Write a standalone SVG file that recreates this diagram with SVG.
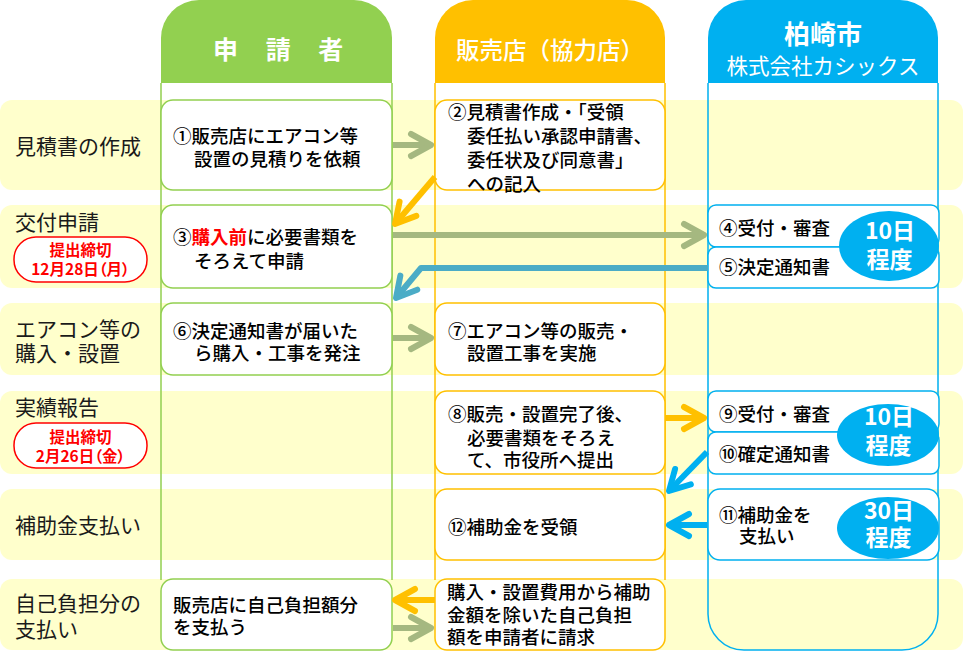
<svg xmlns="http://www.w3.org/2000/svg" width="972" height="660" viewBox="0 0 972 660">
<style>
text{font-family:"Noto Sans CJK JP","Noto Sans",sans-serif}
.band{fill:#FFFFCC}
.lbl{font-size:21px;fill:#1a1a1a}
.bt{font-size:18.5px;font-weight:500;fill:#000}
.bg{fill:#fff;stroke:#92D050;stroke-width:1.5}
.bo{fill:#fff;stroke:#FFC000;stroke-width:1.5}
.bb{fill:#fff;stroke:#00B0F0;stroke-width:1.5}
.pill{fill:#fff;stroke:#FF0000;stroke-width:1.5}
.pt{font-size:15.5px;font-weight:bold;fill:#FF0000;text-anchor:middle;font-feature-settings:"palt"}
.ell{fill:#00B0F0}
.et{font-size:23px;font-weight:bold;fill:#fff;text-anchor:middle}
.hd{fill:#fff;text-anchor:middle;font-weight:bold}
.a{fill:none;stroke-width:6;stroke-linejoin:round}
.red{fill:#FF0000;font-weight:bold}
</style>
<defs>
<marker id="mg" markerUnits="userSpaceOnUse" orient="auto" viewBox="-30 -20 40 40" markerWidth="40" markerHeight="40" refX="0" refY="0" overflow="visible"><path d="M-20,-11 L0,0 L-20,11" fill="none" stroke="#A5B880" stroke-width="6" stroke-linecap="round" stroke-linejoin="round"/></marker>
<marker id="mo" markerUnits="userSpaceOnUse" orient="auto" viewBox="-30 -20 40 40" markerWidth="40" markerHeight="40" refX="0" refY="0" overflow="visible"><path d="M-20,-11 L0,0 L-20,11" fill="none" stroke="#FFC000" stroke-width="6" stroke-linecap="round" stroke-linejoin="round"/></marker>
<marker id="mt" markerUnits="userSpaceOnUse" orient="auto" viewBox="-30 -20 40 40" markerWidth="40" markerHeight="40" refX="0" refY="0" overflow="visible"><path d="M-20,-11 L0,0 L-20,11" fill="none" stroke="#4BACC6" stroke-width="6" stroke-linecap="round" stroke-linejoin="round"/></marker>
<marker id="mb" markerUnits="userSpaceOnUse" orient="auto" viewBox="-30 -20 40 40" markerWidth="40" markerHeight="40" refX="0" refY="0" overflow="visible"><path d="M-20,-11 L0,0 L-20,11" fill="none" stroke="#00B0F0" stroke-width="6" stroke-linecap="round" stroke-linejoin="round"/></marker>
</defs>
<rect width="972" height="660" fill="#fff"/>
<g id="bands">
<rect class="band" x="0" y="100" width="963" height="90" rx="12"/>
<rect class="band" x="0" y="205" width="963" height="83" rx="12"/>
<rect class="band" x="0" y="303" width="963" height="72" rx="12"/>
<rect class="band" x="0" y="391" width="963" height="83" rx="12"/>
<rect class="band" x="0" y="489" width="963" height="71" rx="12"/>
<rect class="band" x="0" y="579" width="963" height="71" rx="12"/>
</g>
<g id="row-labels">
<text class="lbl" x="15" y="154">見積書の作成</text>
<text class="lbl" x="15" y="230">交付申請</text>
<text class="lbl" x="15" y="337">エアコン等の</text>
<text class="lbl" x="15" y="361">購入・設置</text>
<text class="lbl" x="15" y="415">実績報告</text>
<text class="lbl" x="15" y="533">補助金支払い</text>
<text class="lbl" x="15" y="611">自己負担分の</text>
<text class="lbl" x="15" y="637">支払い</text>
</g>
<g id="deadline1">
<rect class="pill" x="14" y="237" width="133" height="45" rx="22"/>
<text class="pt" x="80.5" y="256">提出締切</text>
<text class="pt" x="80.5" y="275">12月28日（月）</text>
</g>
<g id="deadline2">
<rect class="pill" x="14" y="423" width="133" height="45" rx="22"/>
<text class="pt" x="80.5" y="443">提出締切</text>
<text class="pt" x="80.5" y="462">2月26日（金）</text>
</g>
<g id="col-applicant">
<path d="M161,83 V38 A38,38 0 0 1 199,0 H354 A38,38 0 0 1 392,38 V83 Z" fill="#92D050"/>
<path d="M161,83 V580 M392,83 V580" stroke="#92D050" stroke-width="1.5" fill="none"/>
<text class="hd" x="213" y="59" style="font-size:25px;letter-spacing:11px;text-anchor:start">申 請 者</text>
</g>
<g id="col-shop">
<path d="M435,83 V38 A38,38 0 0 1 473,0 H627 A38,38 0 0 1 665,38 V83 Z" fill="#FFC000"/>
<path d="M435,83 V580 M665,83 V580" stroke="#FFC000" stroke-width="1.5" fill="none"/>
<text class="hd" x="550" y="58.5" style="font-size:23.5px;font-weight:500">販売店（協力店）</text>
</g>
<g id="col-city">
<path d="M708,83 V38 A38,38 0 0 1 746,0 H900 A38,38 0 0 1 938,38 V83 Z" fill="#00B0F0"/>
<path d="M708,83 V614 A36,36 0 0 0 744,650 H902 A36,36 0 0 0 938,614 V83" stroke="#00B0F0" stroke-width="1.5" fill="none"/>
<text class="hd" x="823" y="44" style="font-size:26px">柏崎市</text>
<text class="hd" x="823" y="74" style="font-size:21.5px;font-weight:normal">株式会社カシックス</text>
</g>
<g id="step1">
<rect class="bg" x="161" y="100" width="231" height="90" rx="12"/>
<text class="bt" x="173" y="143">①販売店にエアコン等</text>
<text class="bt" x="194" y="166">設置の見積りを依頼</text>
</g>
<g id="step2">
<rect class="bo" x="435" y="100" width="230" height="90" rx="12"/>
<text class="bt" x="448" y="119">②見積書作成・「受領</text>
<text class="bt" x="467" y="143">委任払い承認申請書、</text>
<text class="bt" x="467" y="167">委任状及び同意書」</text>
<text class="bt" x="467" y="191">への記入</text>
</g>
<g id="step3">
<rect class="bg" x="161" y="205" width="231" height="83" rx="12"/>
<text class="bt" x="173" y="244">③<tspan class="red">購入前</tspan>に必要書類を</text>
<text class="bt" x="194" y="268">そろえて申請</text>
</g>
<g id="step4">
<rect class="bb" x="708" y="205" width="231" height="42" rx="8"/>
<text class="bt" x="719" y="235">④受付・審査</text>
</g>
<g id="step5">
<rect class="bb" x="708" y="247" width="231" height="41" rx="8"/>
<text class="bt" x="719" y="274">⑤決定通知書</text>
</g>
<g id="period1">
<ellipse class="ell" cx="889" cy="246" rx="50" ry="35"/>
<text class="et" x="890" y="239">10日</text>
<text class="et" x="889.5" y="268">程度</text>
</g>
<g id="step6">
<rect class="bg" x="161" y="303" width="231" height="72" rx="12"/>
<text class="bt" x="173" y="338">⑥決定通知書が届いた</text>
<text class="bt" x="194" y="360">ら購入・工事を発注</text>
</g>
<g id="step7">
<rect class="bo" x="435" y="303" width="230" height="72" rx="12"/>
<text class="bt" x="448" y="338">⑦エアコン等の販売・</text>
<text class="bt" x="467" y="360">設置工事を実施</text>
</g>
<g id="step8">
<rect class="bo" x="435" y="391" width="230" height="83" rx="12"/>
<text class="bt" x="448" y="421">⑧販売・設置完了後、</text>
<text class="bt" x="467" y="445">必要書類をそろえ</text>
<text class="bt" x="467" y="467">て、市役所へ提出</text>
</g>
<g id="step9">
<rect class="bb" x="708" y="391" width="231" height="41" rx="8"/>
<text class="bt" x="719" y="421">⑨受付・審査</text>
</g>
<g id="step10">
<rect class="bb" x="708" y="432" width="231" height="42" rx="8"/>
<text class="bt" x="719" y="461">⑩確定通知書</text>
</g>
<g id="period2">
<ellipse class="ell" cx="888" cy="435" rx="51" ry="31"/>
<text class="et" x="889" y="425">10日</text>
<text class="et" x="888.5" y="454">程度</text>
</g>
<g id="step12">
<rect class="bo" x="435" y="489" width="230" height="71" rx="12"/>
<text class="bt" x="448" y="534">⑫補助金を受領</text>
</g>
<g id="step11">
<rect class="bb" x="708" y="489" width="231" height="71" rx="12"/>
<text class="bt" x="719" y="522">⑪補助金を</text>
<text class="bt" x="739" y="543">支払い</text>
</g>
<g id="period3">
<ellipse class="ell" cx="888" cy="528" rx="51" ry="31"/>
<text class="et" x="889" y="519">30日</text>
<text class="et" x="888.5" y="546">程度</text>
</g>
<g id="pay-self">
<rect class="bg" x="161" y="579" width="231" height="71" rx="12"/>
<text class="bt" x="173" y="612">販売店に自己負担額分</text>
<text class="bt" x="173" y="634">を支払う</text>
</g>
<g id="bill">
<rect class="bo" x="435" y="579" width="230" height="71" rx="12"/>
<text class="bt" x="447" y="599">購入・設置費用から補助</text>
<text class="bt" x="447" y="622">金額を除いた自己負担</text>
<text class="bt" x="447" y="644">額を申請者に請求</text>
</g>
<g id="connectors">
<path class="a" stroke="#A5B880" d="M393,145 H431" marker-end="url(#mg)"/>
<path class="a" stroke="#FFC000" d="M435,177 L395,224" marker-end="url(#mo)"/>
<path class="a" stroke="#A5B880" d="M393,235 H704" marker-end="url(#mg)"/>
<path class="a" stroke="#4BACC6" d="M708,268 H421 L396,298" marker-end="url(#mt)"/>
<path class="a" stroke="#A5B880" d="M393,338 H431" marker-end="url(#mg)"/>
<path class="a" stroke="#FFC000" d="M665,418 H704" marker-end="url(#mo)"/>
<path class="a" stroke="#00B0F0" d="M707,452 L669,491" marker-end="url(#mb)"/>
<path class="a" stroke="#00B0F0" d="M707,525 H669" marker-end="url(#mb)"/>
<path class="a" stroke="#FFC000" d="M435,600 H395" marker-end="url(#mo)"/>
<path class="a" stroke="#A5B880" d="M393,628 H431" marker-end="url(#mg)"/>
</g>
</svg>
